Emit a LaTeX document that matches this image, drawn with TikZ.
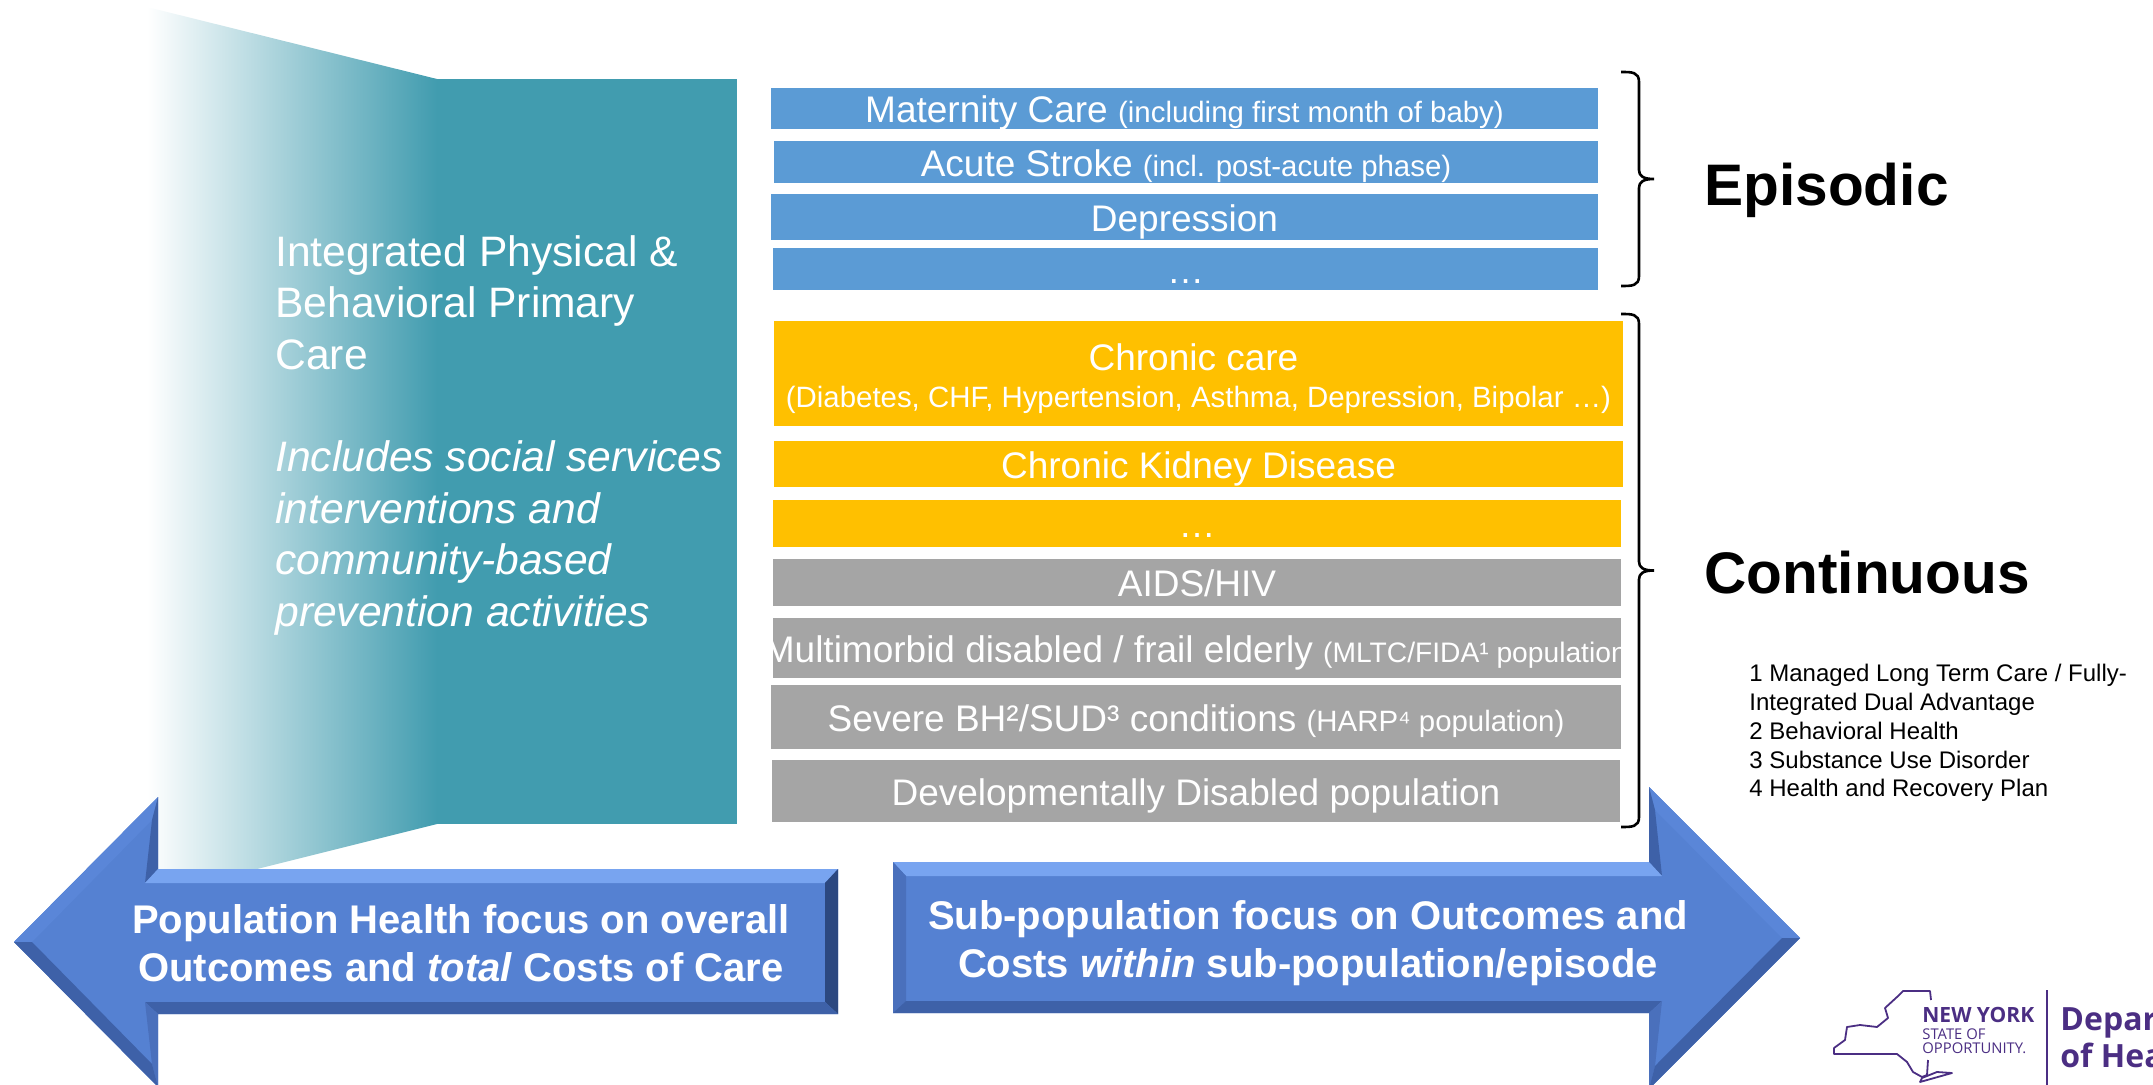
\documentclass[tikz,border=0pt]{standalone}
\usepackage{fontspec}
\setmainfont{Liberation Sans}
\newfontfamily\logofont{Open Sans}
\usetikzlibrary{positioning,calc}
\definecolor{tealMain}{HTML}{419CAF}
\definecolor{barBlue}{HTML}{5B9BD5}
\definecolor{barGold}{HTML}{FFC000}
\definecolor{barGrey}{HTML}{A5A5A5}
\definecolor{arrowFace}{HTML}{5581D2}
\definecolor{bevelLight}{HTML}{78A4F0}
\definecolor{bevelMid}{HTML}{5A86D8}
\definecolor{bevelLow}{HTML}{4A70BC}
\definecolor{bevelDark}{HTML}{3E61A8}
\definecolor{bevelNavy}{HTML}{2C4880}
\definecolor{nyPurple}{HTML}{4B2E83}
\tikzset{
  bar/.style={anchor=center,inner sep=0pt,text=white,font=\fontsize{18.5}{22}\selectfont},
  oneLine/.style={text height=16.4pt,text depth=2pt},
  blueBar/.style={bar,oneLine,fill=barBlue},
  goldBar/.style={bar,fill=barGold},
  greyBar/.style={bar,oneLine,fill=barGrey},
  arrowLabel/.style={anchor=center,inner sep=0pt,align=center,text=white,font=\fontsize{20}{23.7}\selectfont\bfseries},
  bigLabel/.style={anchor=base west,inner sep=0pt,font=\fontsize{29.3}{34}\selectfont\bfseries},
  sideBrace/.style={line width=1.3pt},
  logoText/.style={anchor=base west,inner sep=0pt,text=nyPurple},
}
\newcommand{\smalltxt}{\fontsize{14.7}{18}\selectfont}
% left x, top y, bottom y
\newcommand{\sideBracePath}[3]{%
  \pgfmathsetmacro\midY{(#2+#3)/2}
  \draw[sideBrace] (#1,#2) .. controls ({#1+11},#2) and ({#1+18},#2) .. ({#1+18},{#2+10}) -- ({#1+18},{\midY-9})
    .. controls ({#1+18},{\midY-3}) and ({#1+22},\midY) .. ({#1+33},\midY)
    .. controls ({#1+22},\midY) and ({#1+18},{\midY+3}) .. ({#1+18},{\midY+9}) -- ({#1+18},{#3-10})
    .. controls ({#1+18},#3) and ({#1+11},#3) .. (#1,#3);
}
\begin{document}
\begin{tikzpicture}[x=0.5pt,y=-0.5pt]
\useasboundingbox (0,0) rectangle (2153,1085);
\clip (0,0) rectangle (2153,1085);

% ===== Teal panel =====
\shade[left color=white,right color=tealMain] (147,7) -- (437,79) -- (437,824) -- (257,869) -- (147,869) -- cycle;
\fill[tealMain] (437,79) rectangle (737,824);
\node[anchor=north west,inner sep=0pt,align=left,text=white,font=\fontsize{21.3}{25.7}\selectfont] (panelText) at (275,235)
  {Integrated Physical \&\\Behavioral Primary\\Care\\[25.7pt]\textit{Includes social services}\\\textit{interventions and}\\\textit{community-based}\\\textit{prevention activities}};

% ===== Episodic bars =====
\node[blueBar,minimum width=413.5pt,minimum height=20.5pt] (maternity) at (1184.5,108.5) {Maternity Care {\smalltxt (including first month of baby)}};
\node[blueBar,minimum width=412pt,minimum height=21pt] (stroke) at (1186,162) {Acute Stroke {\smalltxt (incl. post-acute phase)}};
\node[blueBar,minimum width=413.5pt,minimum height=23pt] (depression) at (1184.5,217) {Depression};
\node[blueBar,minimum width=412.5pt,minimum height=21pt] (moreEpisodic) at (1185.5,269) {…};

% ===== Continuous bars =====
\node[goldBar,minimum width=424.5pt,minimum height=52.5pt,align=center] (chronic) at (1198.5,373.5) {\rule{0pt}{18.5pt}\hspace*{-5pt}Chronic care\\[-3.5pt]{\smalltxt (Diabetes, CHF, Hypertension, Asthma, Depression, Bipolar …)}};
\node[goldBar,oneLine,minimum width=424.5pt,minimum height=23pt] (kidney) at (1198.5,464) {Chronic Kidney Disease};
\node[goldBar,oneLine,minimum width=424pt,minimum height=23.5pt] (moreGold) at (1197,523.5) {…};
\node[greyBar,minimum width=424pt,minimum height=23.5pt] (aids) at (1197,582.5) {AIDS/HIV};
\node[greyBar,minimum width=424pt,minimum height=30pt] (frail) at (1197,648) {\makebox[424pt][c]{\hspace{3pt}Multimorbid disabled / frail elderly {\fontsize{14.1}{18}\selectfont (MLTC/FIDA¹ population)}}};
\node[greyBar,minimum width=425pt,minimum height=32pt] (severe) at (1196,717) {Severe BH²/SUD³ conditions {\smalltxt (HARP⁴ population)}};
\node[greyBar,minimum width=424pt,minimum height=31pt] (disabled) at (1196,791) {Developmentally Disabled population};

% ===== Braces =====
\sideBracePath{1621}{72}{286}
\sideBracePath{1621}{314}{827}
\node[bigLabel] (episodic) at (1704,206) {Episodic};
\node[bigLabel] (continuous) at (1704,593) {Continuous};

% ===== Footnotes =====
\node[anchor=north west,inner sep=0pt,align=left,font=\fontsize{12}{14.4}\selectfont] (notes) at (1749,664)
  {1 Managed Long Term Care / Fully-\\Integrated Dual Advantage\\2 Behavioral Health\\3 Substance Use Disorder\\4 Health and Recovery Plan};

% ===== Left arrow =====
\coordinate (Ltip) at (14,942);   \coordinate (Ltipi) at (32,942);
\coordinate (Lht) at (158,797);   \coordinate (Lhti) at (152,820);
\coordinate (Lst) at (158,869);   \coordinate (Lsti) at (145,883);
\coordinate (Let) at (838,869);   \coordinate (Leti) at (825,883);
\coordinate (Leb) at (838,1014);  \coordinate (Lebi) at (825,1002);
\coordinate (Lsb) at (158,1014);  \coordinate (Lsbi) at (145,1002);
\coordinate (Lhb) at (158,1087);  \coordinate (Lhbi) at (152,1064);

% ===== Right arrow =====
\coordinate (Rtip) at (1800,938); \coordinate (Rtipi) at (1782,938);
\coordinate (Rht) at (1649,787);  \coordinate (Rhti) at (1655,810);
\coordinate (Rst) at (1649,862);  \coordinate (Rsti) at (1662,876);
\coordinate (Ret) at (893,862);   \coordinate (Reti) at (906,876);
\coordinate (Reb) at (893,1013);  \coordinate (Rebi) at (906,1001);
\coordinate (Rsb) at (1649,1013); \coordinate (Rsbi) at (1662,1001);
\coordinate (Rhb) at (1649,1089); \coordinate (Rhbi) at (1655,1066);

\foreach \s/\endcol in {L/bevelNavy,R/bevelLow} {
  \fill[arrowFace] (\s tip) -- (\s ht) -- (\s st) -- (\s et) -- (\s eb) -- (\s sb) -- (\s hb) -- cycle;
  \fill[bevelMid] (\s tip) -- (\s ht) -- (\s hti) -- (\s tipi) -- cycle;
  \fill[bevelDark] (\s ht) -- (\s st) -- (\s sti) -- (\s hti) -- cycle;
  \fill[bevelLight] (\s st) -- (\s et) -- (\s eti) -- (\s sti) -- cycle;
  \fill[\endcol] (\s et) -- (\s eb) -- (\s ebi) -- (\s eti) -- cycle;
  \fill[bevelDark] (\s eb) -- (\s sb) -- (\s sbi) -- (\s ebi) -- cycle;
  \fill[bevelLow] (\s sb) -- (\s hb) -- (\s hbi) -- (\s sbi) -- cycle;
  \fill[bevelDark] (\s hb) -- (\s tip) -- (\s tipi) -- (\s hbi) -- cycle;
}
\node[arrowLabel] (popHealth) at (461,943) {Population Health focus on overall\\Outcomes and \textit{total} Costs of Care};
\node[arrowLabel] (subPop) at (1308,943) {Sub-population focus on Outcomes and\\Costs \textit{within} sub-population/episode};

% ===== Logo =====
\draw[nyPurple,line width=0.9pt,line join=round] (1931,1000) -- (1930,991) -- (1903,991) -- (1897,997) -- (1885,1008) -- (1888,1018) -- (1877,1027) -- (1860,1025) -- (1847,1027) -- (1845,1040) -- (1834,1048) -- (1834,1054) -- (1897,1054) -- (1907,1062) -- (1913,1072) -- (1922,1077) -- (1927,1075) -- (1928,1060);
\draw[nyPurple,line width=0.9pt,line join=round] (1920,1082) -- (1952,1073) -- (1937,1072) -- (1922,1078) -- cycle;
\node[logoText,font=\logofont\fontsize{10.5}{12}\selectfont\bfseries] (nyName) at (1922,1022) {NEW YORK};
\node[logoText,font=\logofont\fontsize{7.4}{9}\selectfont] (nyState) at (1922,1039) {STATE OF};
\node[logoText,font=\logofont\fontsize{7.4}{9}\selectfont] (nyOpp) at (1922,1053) {OPPORTUNITY.};
\coordinate (sepTop) at (2047,990);
\coordinate (sepBot) at (2047,1085);
\draw[nyPurple,line width=0.8pt] (sepTop) -- (sepBot);
\node[logoText,font=\logofont\fontsize{16}{18}\selectfont\bfseries] (deptName) at (2060,1030) {Department};
\node[logoText,font=\logofont\fontsize{16}{18}\selectfont\bfseries] (deptHealth) at (2060,1067) {of Health};
\end{tikzpicture}
\end{document}
